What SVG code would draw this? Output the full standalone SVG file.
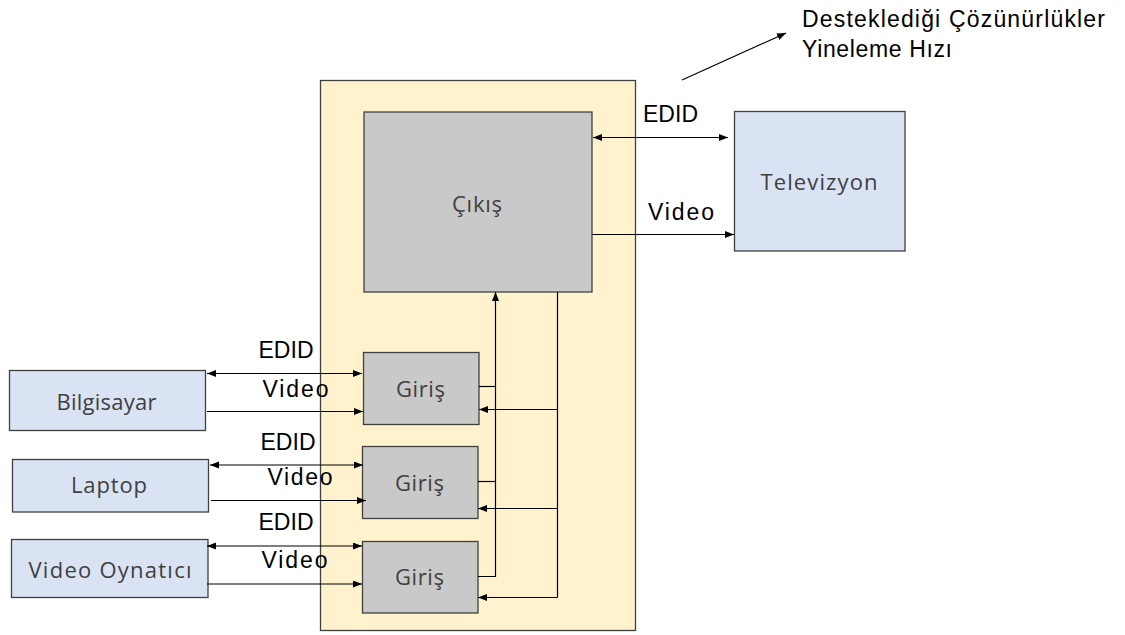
<svg xmlns="http://www.w3.org/2000/svg" width="1125" height="635" viewBox="0 0 1125 635">
<style>
.outer{fill:#FFF2CC;stroke:#404040;stroke-width:1.3}
.gray{fill:#C9C9C9;stroke:#404040;stroke-width:1.3}
.blue{fill:#DAE3F3;stroke:#404040;stroke-width:1.3}
.box-t{font-family:"Open Sans","Liberation Sans",sans-serif;font-size:22px;fill:#404040;text-anchor:middle}
.lbl{font-family:"Liberation Sans",Arial,sans-serif;font-size:23px;fill:#000}
.ln{fill:none;stroke:#000;stroke-width:1.2}
</style>
<defs>
<marker id="ah" markerUnits="userSpaceOnUse" markerWidth="10" markerHeight="8" refX="9" refY="3.5" orient="auto-start-reverse">
<path d="M0,0 L9,3.5 L0,7 z" fill="#000"/>
</marker>
</defs>
<g id="switcher">
<rect class="outer" x="320.5" y="80.5" width="315" height="550"/>
</g>
<g id="cikis">
<rect class="gray" x="364" y="112" width="228" height="180"/>
<text class="box-t" x="477" y="212" textLength="50">Çıkış</text>
</g>
<g id="televizyon">
<rect class="blue" x="734.5" y="111.5" width="170.5" height="139.5"/>
<text class="box-t" x="819" y="190" textLength="117">Televizyon</text>
</g>
<g id="giris1">
<rect class="gray" x="363.5" y="352.5" width="115.5" height="72"/>
<text class="box-t" x="420.5" y="397" textLength="49">Giriş</text>
</g>
<g id="giris2">
<rect class="gray" x="362.5" y="446.5" width="115.5" height="72"/>
<text class="box-t" x="419.5" y="491" textLength="49">Giriş</text>
</g>
<g id="giris3">
<rect class="gray" x="362.5" y="541.5" width="115.5" height="71.5"/>
<text class="box-t" x="419.5" y="585" textLength="49">Giriş</text>
</g>
<g id="bilgisayar">
<rect class="blue" x="9.5" y="370.5" width="196" height="60"/>
<text class="box-t" x="106.5" y="410" textLength="100">Bilgisayar</text>
</g>
<g id="laptop">
<rect class="blue" x="12.5" y="459.5" width="196" height="52.5"/>
<text class="box-t" x="109" y="493" textLength="76">Laptop</text>
</g>
<g id="video-oynatici">
<rect class="blue" x="11.5" y="539.5" width="196.5" height="58"/>
<text class="box-t" x="110" y="578" textLength="163">Video Oynatıcı</text>
</g>
<g id="connectors">
<line class="ln" x1="593" y1="137.5" x2="728" y2="137.5" marker-start="url(#ah)" marker-end="url(#ah)"/>
<line class="ln" x1="592" y1="234.5" x2="734" y2="234.5" marker-end="url(#ah)"/>
<line class="ln" x1="682" y1="80" x2="786" y2="33" marker-end="url(#ah)"/>
<line class="ln" x1="207" y1="373.5" x2="362" y2="373.5" marker-start="url(#ah)" marker-end="url(#ah)"/>
<line class="ln" x1="207" y1="411.5" x2="363" y2="411.5" marker-end="url(#ah)"/>
<line class="ln" x1="210" y1="465" x2="363" y2="465" marker-start="url(#ah)" marker-end="url(#ah)"/>
<line class="ln" x1="211" y1="500.5" x2="366" y2="500.5" marker-end="url(#ah)"/>
<line class="ln" x1="207" y1="546" x2="362" y2="546" marker-start="url(#ah)" marker-end="url(#ah)"/>
<line class="ln" x1="207" y1="584" x2="362" y2="584" marker-end="url(#ah)"/>
<polyline class="ln" points="478,576.5 495.5,576.5 495.5,292" marker-end="url(#ah)"/>
<line class="ln" x1="479" y1="386.5" x2="495.5" y2="386.5"/>
<line class="ln" x1="478" y1="481.5" x2="495.5" y2="481.5"/>
<line class="ln" x1="557.5" y1="292" x2="557.5" y2="597.5"/>
<line class="ln" x1="557.5" y1="409.5" x2="479" y2="409.5" marker-end="url(#ah)"/>
<line class="ln" x1="557.5" y1="508.5" x2="478" y2="508.5" marker-end="url(#ah)"/>
<line class="ln" x1="557.5" y1="597.5" x2="478" y2="597.5" marker-end="url(#ah)"/>
</g>
<g id="labels">
<text class="lbl" x="643" y="121.5" textLength="55">EDID</text>
<text class="lbl" x="648" y="220" textLength="66">Video</text>
<text class="lbl" x="258.5" y="357.5" textLength="55">EDID</text>
<text class="lbl" x="262.5" y="396.5" textLength="66">Video</text>
<text class="lbl" x="260.5" y="449.5" textLength="55">EDID</text>
<text class="lbl" x="267.5" y="485" textLength="65">Video</text>
<text class="lbl" x="258.5" y="529.5" textLength="55">EDID</text>
<text class="lbl" x="261.5" y="567.5" textLength="66">Video</text>
<text class="lbl" x="802" y="26.5" textLength="303">Desteklediği Çözünürlükler</text>
<text class="lbl" x="802" y="56.5" textLength="150">Yineleme Hızı</text>
</g>
</svg>
